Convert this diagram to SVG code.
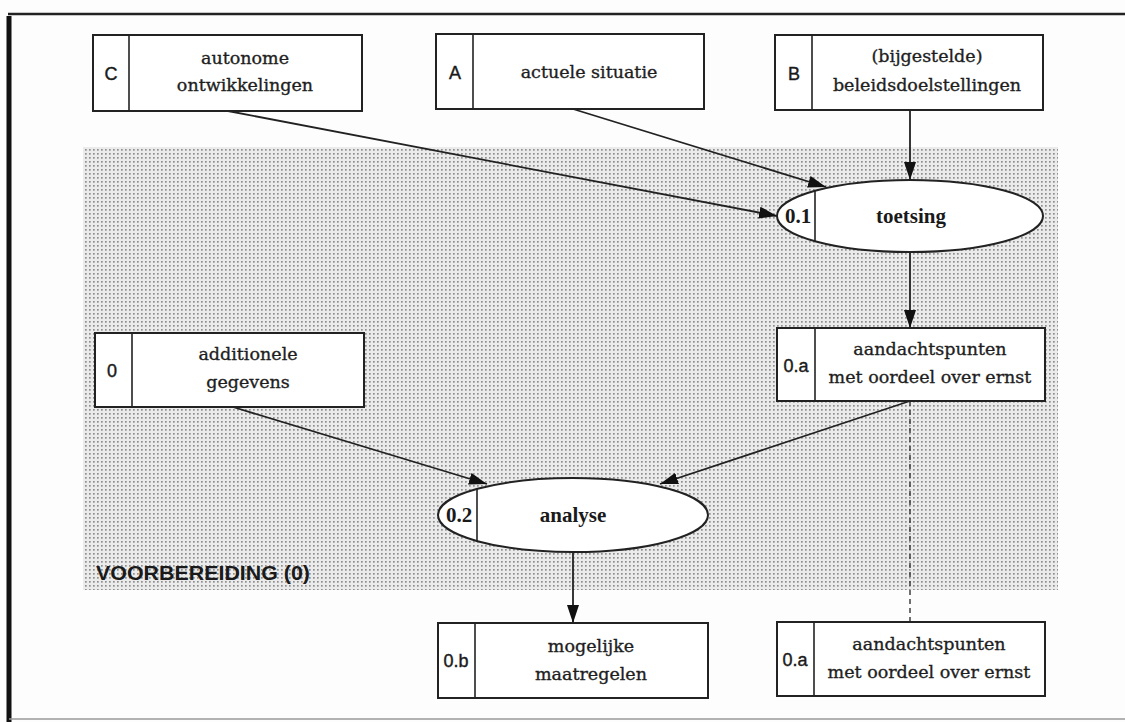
<svg xmlns="http://www.w3.org/2000/svg" width="1125" height="722" viewBox="0 0 1125 722">
<style>
.box{fill:#fff;stroke:#222;stroke-width:2}
.div{stroke:#222;stroke-width:1.6}
.t{font-family:"DejaVu Serif","Liberation Serif",serif;font-size:17.5px;fill:#1e1e1e;stroke:#1e1e1e;stroke-width:0.35;text-anchor:middle}
.tb{font-family:"Liberation Serif","Times New Roman",serif;font-size:21px;font-weight:bold;fill:#1a1a1a;text-anchor:middle}
.lab{font-family:"Liberation Sans",Arial,sans-serif;font-size:18px;fill:#1a1a1a;stroke:#1a1a1a;stroke-width:0.4;text-anchor:middle}
.con{stroke:#222;stroke-width:1.8;fill:none}
.dash{stroke:#333;stroke-width:1.4;stroke-dasharray:5 4;fill:none}
</style>
<defs>
<pattern id="dots" patternUnits="userSpaceOnUse" width="4" height="4">
<rect width="4" height="4" fill="#ebebeb"/>
<rect x="1" y="1" width="1.7" height="1.7" fill="#8f8f8f"/>
</pattern>
<marker id="ah" markerUnits="userSpaceOnUse" markerWidth="20" markerHeight="14" refX="18" refY="6" orient="auto">
<path d="M0,0 L18,6 L0,12 z" fill="#111"/>
</marker>
</defs>
<rect width="1125" height="722" fill="#fdfdfd"/>
<g id="frame">
<line x1="8" y1="14" x2="1125" y2="14" stroke="#222" stroke-width="2.5"/>
<line x1="9" y1="16" x2="9" y2="722" stroke="#111" stroke-width="5"/>
<line x1="9" y1="719" x2="1125" y2="719" stroke="#999" stroke-width="1.5"/>
</g>
<g id="voorbereiding">
<rect x="83" y="147" width="975" height="443" fill="url(#dots)"/>
<text x="96" y="580" font-family="'Liberation Sans',Arial,sans-serif" font-size="21" font-weight="bold" fill="#1a1a1a" textLength="214" lengthAdjust="spacingAndGlyphs">VOORBEREIDING (0)</text>
</g>
<g id="connectors">
<line class="con" x1="228" y1="111" x2="777" y2="216" marker-end="url(#ah)"/>
<line class="con" x1="573" y1="109" x2="826" y2="187" marker-end="url(#ah)"/>
<line class="con" x1="910" y1="110" x2="910" y2="180" marker-end="url(#ah)"/>
<line class="con" x1="910" y1="252" x2="910" y2="328" marker-end="url(#ah)"/>
<line class="con" x1="233" y1="407" x2="487" y2="484" marker-end="url(#ah)"/>
<line class="con" x1="910" y1="401" x2="660" y2="484" marker-end="url(#ah)"/>
<line class="con" x1="573" y1="552" x2="573" y2="623" marker-end="url(#ah)"/>
<line class="dash" x1="910" y1="401" x2="910" y2="622"/>
</g>
<g id="nodeC">
<rect class="box" x="93" y="35" width="269" height="76"/>
<line class="div" x1="129" y1="35" x2="129" y2="111"/>
<text class="lab" x="111" y="80">C</text>
<text class="t" x="245" y="64">autonome</text>
<text class="t" x="245" y="91">ontwikkelingen</text>
</g>
<g id="nodeA">
<rect class="box" x="436" y="34" width="268" height="75"/>
<line class="div" x1="473" y1="34" x2="473" y2="109"/>
<text class="lab" x="455" y="79">A</text>
<text class="t" x="589" y="78">actuele situatie</text>
</g>
<g id="nodeB">
<rect class="box" x="775" y="35" width="268" height="75"/>
<line class="div" x1="812" y1="35" x2="812" y2="110"/>
<text class="lab" x="794" y="80">B</text>
<text class="t" x="927" y="62">(bijgestelde)</text>
<text class="t" x="927" y="91">beleidsdoelstellingen</text>
</g>
<g id="toetsing">
<ellipse cx="910" cy="216" rx="133" ry="36" fill="#fff" stroke="#222" stroke-width="2"/>
<line class="div" x1="815" y1="191" x2="815" y2="241"/>
<text class="tb" x="798" y="223">0.1</text>
<text class="tb" x="911" y="223">toetsing</text>
</g>
<g id="node0a">
<rect class="box" x="777" y="328" width="268" height="73"/>
<line class="div" x1="815" y1="328" x2="815" y2="401"/>
<text class="lab" x="796" y="372">0.a</text>
<text class="t" x="930" y="355">aandachtspunten</text>
<text class="t" x="930" y="383">met oordeel over ernst</text>
</g>
<g id="node0">
<rect class="box" x="95" y="333" width="269" height="74"/>
<line class="div" x1="132" y1="333" x2="132" y2="407"/>
<text class="lab" x="112" y="377">0</text>
<text class="t" x="248" y="360">additionele</text>
<text class="t" x="248" y="388">gegevens</text>
</g>
<g id="analyse">
<ellipse cx="573" cy="515" rx="135" ry="37" fill="#fff" stroke="#222" stroke-width="2"/>
<line class="div" x1="477" y1="489" x2="477" y2="541"/>
<text class="tb" x="459" y="522">0.2</text>
<text class="tb" x="573" y="522">analyse</text>
</g>
<g id="node0b">
<rect class="box" x="438" y="623" width="270" height="75"/>
<line class="div" x1="475" y1="623" x2="475" y2="698"/>
<text class="lab" x="456" y="667">0.b</text>
<text class="t" x="591" y="652">mogelijke</text>
<text class="t" x="591" y="680">maatregelen</text>
</g>
<g id="node0a2">
<rect class="box" x="777" y="622" width="268" height="74"/>
<line class="div" x1="814" y1="622" x2="814" y2="696"/>
<text class="lab" x="795" y="666">0.a</text>
<text class="t" x="929" y="650">aandachtspunten</text>
<text class="t" x="929" y="678">met oordeel over ernst</text>
</g>
</svg>
